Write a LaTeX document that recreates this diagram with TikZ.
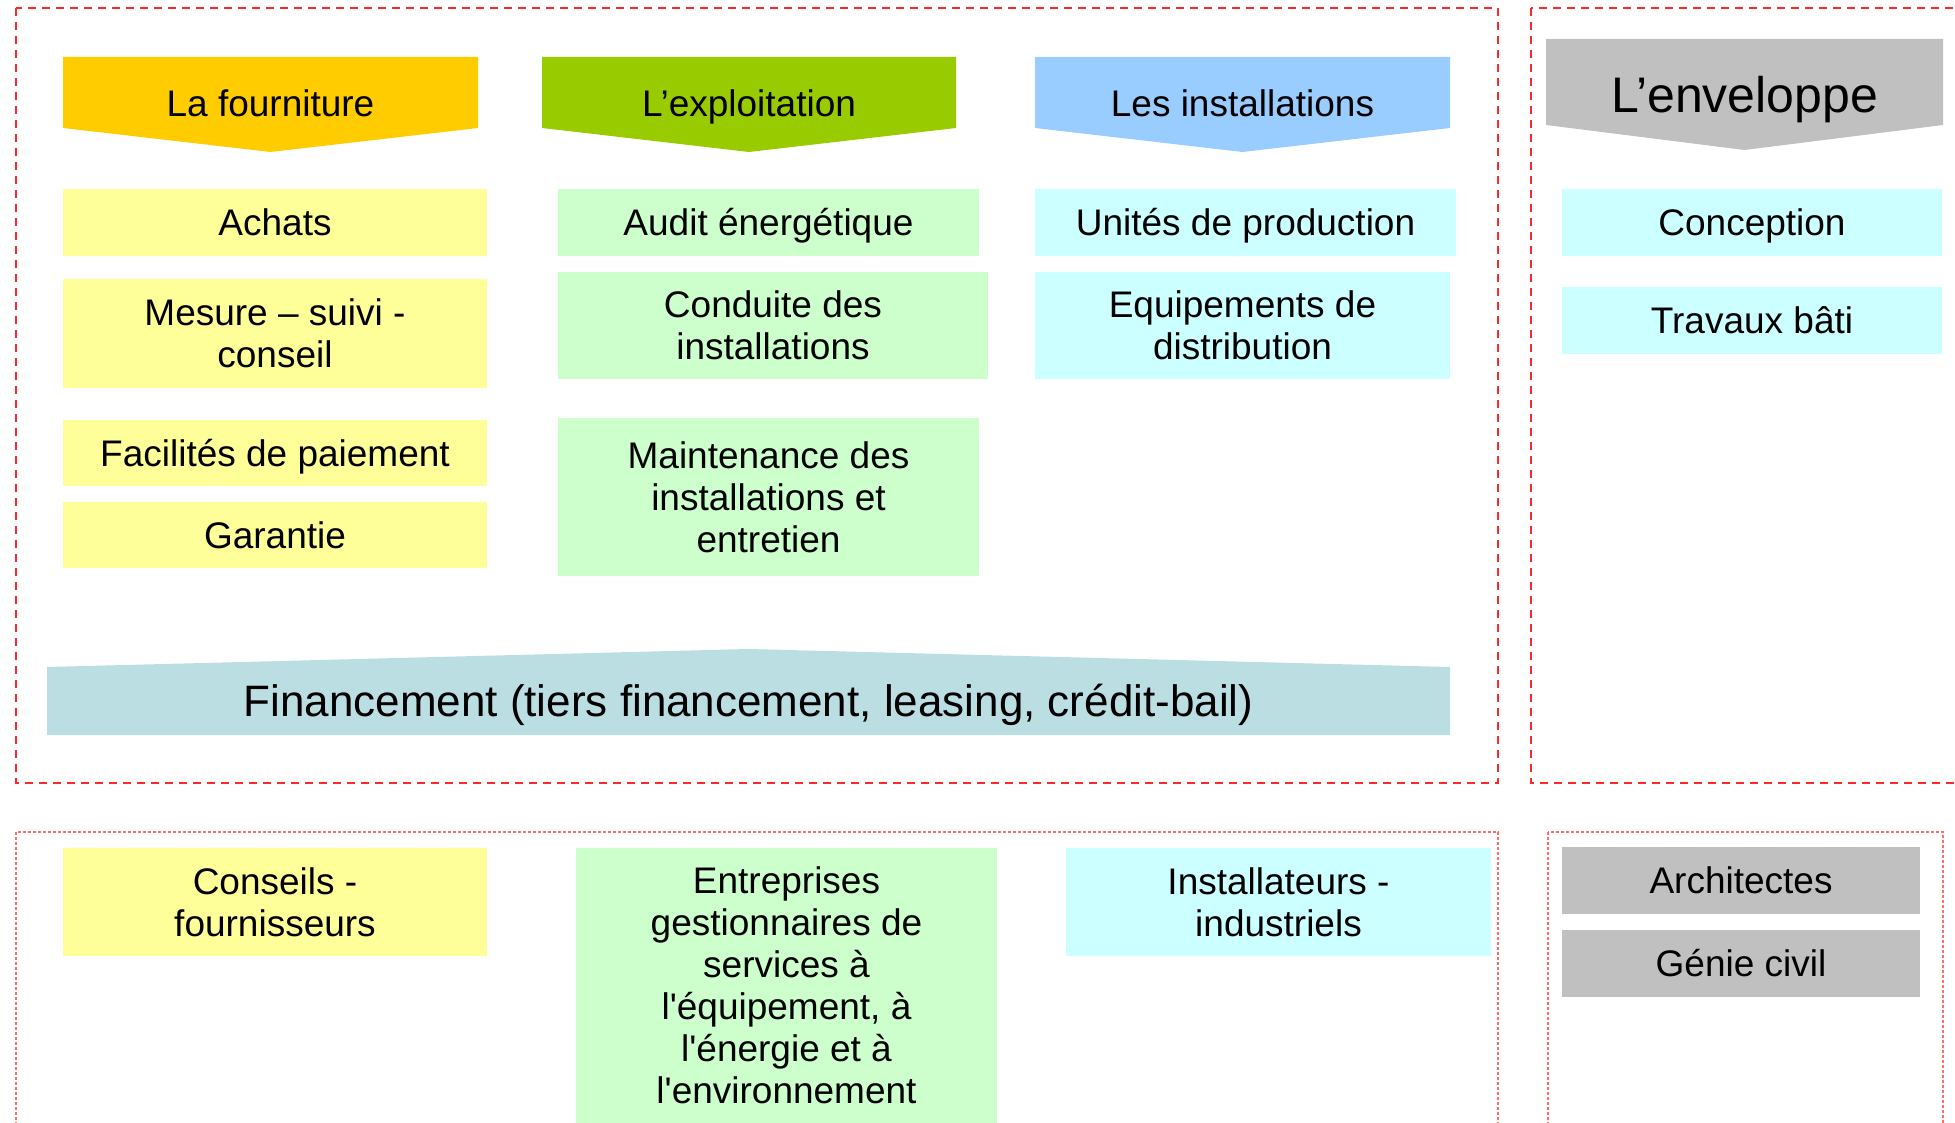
\documentclass[tikz,border=0pt]{standalone}
\usepackage{fontspec}
\setmainfont{Liberation Sans}
\usepackage{tikz}

\begin{document}
\begin{tikzpicture}[x=0.5pt,y=0.5pt,yscale=-1,xscale=1,
    cell/.style={inner sep=0pt, align=center, font=\fontsize{18.5}{21}\selectfont},
    oneline/.style={text height=#1, text depth=0pt},
    oneline/.default=13.3pt,
    ylwbox/.style={cell, fill={rgb, 255:red, 255; green, 255; blue, 153}},
    grnbox/.style={cell, fill={rgb, 255:red, 204; green, 255; blue, 204}},
    cyanbox/.style={cell, fill={rgb, 255:red, 204; green, 255; blue, 255}},
    greybox/.style={cell, fill={rgb, 255:red, 192; green, 192; blue, 192}},
    frametop/.style={color={rgb, 255:red, 255; green, 40; blue, 40}, line width=1.2pt, dash pattern={on 4pt off 3pt}},
    framebot/.style={color={rgb, 255:red, 255; green, 110; blue, 110}, line width=1.2pt, dash pattern={on 1.5pt off 1pt}}
  ]
    \clip (0,0) rectangle (1955,1123);

    %Shape: Dashed frames
    \draw [frametop] (16,8) rectangle (1498,783) ;
    \draw [frametop] (1531,8) rectangle (1975,783) ;
    \draw [framebot] (16,832) rectangle (1498,1140) ;
    \draw [framebot] (1548,832) rectangle (1943,1140) ;

    %Shape: Chevrons
    \fill [color={rgb, 255:red, 255; green, 204; blue, 0}] (63,57) -- (478,57) -- (478,128) -- (270.5,152) -- (63,128) -- cycle ;
    \fill [color={rgb, 255:red, 153; green, 204; blue, 0}] (542,57) -- (956,57) -- (956,128) -- (749,152) -- (542,128) -- cycle ;
    \fill [color={rgb, 255:red, 153; green, 204; blue, 255}] (1035,57) -- (1450,57) -- (1450,128) -- (1242.5,152) -- (1035,128) -- cycle ;
    \fill [color={rgb, 255:red, 192; green, 192; blue, 192}] (1546,39) -- (1943,39) -- (1943,125) -- (1744.5,150) -- (1546,125) -- cycle ;
    %Shape: Financement
    \fill [color={rgb, 255:red, 186; green, 222; blue, 226}] (47,667) -- (748.5,649) -- (1450,667) -- (1450,735) -- (47,735) -- cycle ;

    % Text Node
    \node [cell, oneline] (fourniture) at (270.5,103) {La fourniture};
    \node [cell, oneline] (exploitation) at (749,103) {L’exploitation};
    \node [cell, oneline] (installations) at (1242.5,103) {Les installations};
    \node [cell, oneline=18pt, font=\fontsize{25}{28}\selectfont] (enveloppe) at (1744.5,95) {L’enveloppe};
    \node [cell, oneline=15.8pt, font=\fontsize{22}{25}\selectfont] (financement) at (748.5,701) {Financement (tiers financement, leasing, crédit-bail)};

    % La fourniture
    \node [ylwbox, oneline, minimum width=212pt, minimum height=33.5pt] (achats) at (275,222.5) {Achats};
    \node [ylwbox, minimum width=212pt, minimum height=54.5pt] (mesure) at (275,333.5) {Mesure – suivi -\\conseil};
    \node [ylwbox, oneline, minimum width=212pt, minimum height=33pt] (facilites) at (275,453) {Facilités de paiement};
    \node [ylwbox, oneline, minimum width=212pt, minimum height=33pt] (garantie) at (275,535) {Garantie};
    % L'exploitation
    \node [grnbox, oneline, minimum width=210.5pt, minimum height=33.5pt] (audit) at (768.5,222.5) {Audit énergétique};
    \node [grnbox, minimum width=215pt, minimum height=53.5pt] (conduite) at (773,325.5) {Conduite des\\installations};
    \node [grnbox, minimum width=210.5pt, minimum height=79pt] (maintenance) at (768.5,497) {Maintenance des\\installations et\\entretien};
    % Les installations
    \node [cyanbox, oneline, minimum width=210.5pt, minimum height=33.5pt] (unites) at (1245.5,222.5) {Unités de production};
    \node [cyanbox, minimum width=207.5pt, minimum height=53.5pt] (equipements) at (1242.5,325.5) {Equipements de\\distribution};
    % L'enveloppe
    \node [cyanbox, oneline, minimum width=190pt, minimum height=33.5pt] (conception) at (1752,222.5) {Conception};
    \node [cyanbox, oneline, minimum width=190pt, minimum height=33.5pt] (travaux) at (1752,320.5) {Travaux bâti};

    % Acteurs
    \node [ylwbox, minimum width=212pt, minimum height=54pt] (conseils) at (275,902) {Conseils -\\fournisseurs};
    \node [grnbox, minimum width=210.5pt, minimum height=137.5pt] (entreprises) at (786.5,985.5) {Entreprises\\gestionnaires de\\services à\\l\textquotesingle équipement, à\\l\textquotesingle énergie et à\\l\textquotesingle environnement};
    \node [cyanbox, minimum width=212.5pt, minimum height=54pt] (installateurs) at (1278.5,902) {Installateurs -\\industriels};
    \node [greybox, oneline, minimum width=179pt, minimum height=33.5pt] (architectes) at (1741,880.5) {Architectes};
    \node [greybox, oneline, minimum width=179pt, minimum height=33.5pt] (genie) at (1741,963.5) {Génie civil};

\end{tikzpicture}
\end{document}
